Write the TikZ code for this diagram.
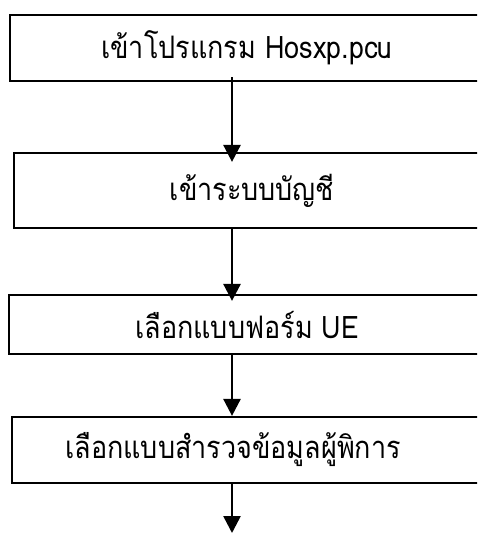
\documentclass[tikz,border=0pt]{standalone}
\usepackage{fontspec}
\newfontfamily\thaifont[Script=Thai,FakeStretch=0.87]{Loma}
\usetikzlibrary{arrows.meta}

\tikzset{
  flowtext/.style={font=\thaifont\fontsize{31}{36}\selectfont},
  flowbox/.style={draw, line width=2.2pt, minimum height=#1, inner sep=0pt, flowtext},
  flowbox/.default=66pt,
  flowarrow/.style={line width=2.6pt, -{Triangle[width=17pt,length=17pt]}}
}

\begin{document}
\begin{tikzpicture}[x=1pt,y=1pt,yscale=-1,xscale=1]
\useasboundingbox (0,0) rectangle (477,534);
\clip (0,0) rectangle (477,534);

%Boxes
\node [flowbox=66pt, minimum width=474pt] (login) at (247,48) {เข้าโปรแกรม Hosxp.pcu};
\node [flowbox=75pt, minimum width=476pt] (account) at (252,190.5) {เข้าระบบบัญชี};
\node [flowbox=59pt, minimum width=476pt] (ueform) at (247,324.5) {เลือกแบบฟอร์ม UE};
\node [flowbox=66pt, minimum width=476pt] (survey) at (250,450) {};
% Text Node
\node [flowtext, inner sep=0pt] (surveytext) at (233,450) {เลือกแบบสำรวจข้อมูลผู้พิการ};

%Straight Lines
\coordinate (ax) at (232,0);
\coordinate (tail) at (232,533);
\draw [flowarrow] ([yshift=-5pt]login.south -| ax) -- ([yshift=10pt]account.north -| ax);
\draw [flowarrow] ([yshift=-1pt]account.south -| ax) -- ([yshift=7pt]ueform.north -| ax);
\draw [flowarrow] (ueform.south -| ax) -- (survey.north -| ax);
\draw [flowarrow] (survey.south -| ax) -- (tail);

\end{tikzpicture}
\end{document}
